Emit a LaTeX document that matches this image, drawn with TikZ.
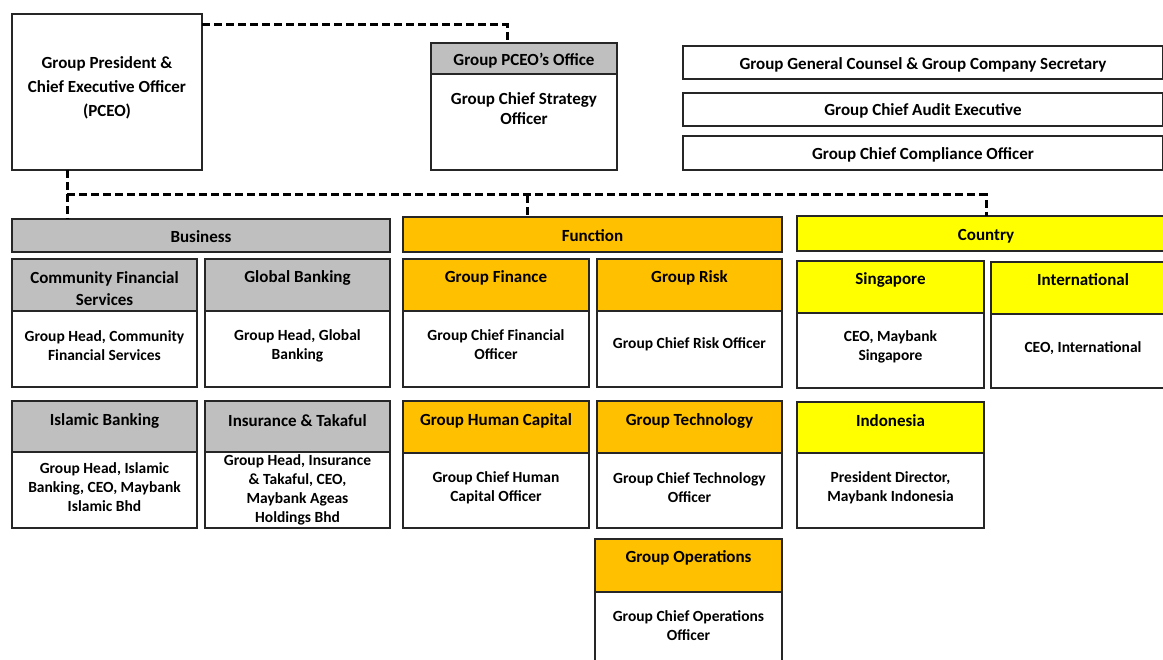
\documentclass[tikz,border=0pt]{standalone}
\usepackage{fontspec}
\setmainfont{Carlito}
\definecolor{hgray}{HTML}{BFBFBF}
\definecolor{horange}{HTML}{FFC000}
\definecolor{hyellow}{HTML}{FFFF00}
\definecolor{edge}{HTML}{262626}
\newcommand\orgunit[7]{%
  \node[hdr,fill=#7,minimum width={(#3-#2)*1pt},minimum height={(#5-#4)*1pt}] (#1h) at ({(#2+#3)/2},{(#4+#5)/2}) {};
  \node[bdy,minimum width={(#3-#2)*1pt},minimum height={(#6-#5)*1pt}] (#1b) at ({(#2+#3)/2},{(#5+#6)/2}) {};
}
\begin{document}
\begin{tikzpicture}[x=1pt,y=-1pt,
  hdr/.style={draw=edge,line width=1.4pt,inner sep=0pt,outer sep=0pt},
  bdy/.style={draw=edge,line width=1.4pt,fill=white,inner sep=0pt,outer sep=0pt},
  txt/.style={align=center,inner sep=0pt,yshift=-1.5pt,font=\fontsize{15.5}{19}\selectfont\bfseries},
  htxt/.style={txt,font=\fontsize{17}{22}\selectfont\bfseries},
  btxt/.style={txt,font=\fontsize{17}{20}\selectfont\bfseries},
  dashline/.style={line width=3pt,dash pattern=on 8pt off 4pt}]
\useasboundingbox (0,0) rectangle (1163,660);

% PCEO
\node[bdy,minimum width=190pt,minimum height=156pt] (pceo) at (107,92) {};
\node[htxt,font=\fontsize{17}{24}\selectfont\bfseries] (pceoT) at (107,86) {Group President \&\\Chief Executive Officer\\(PCEO)};

% PCEO office
\orgunit{off}{431}{617}{43}{74}{170}{hgray}
\node[htxt] (offT) at (524,59) {Group PCEO’s Office};
\node[btxt] (offB) at (524,107) {Group Chief Strategy\\Officer};

% right column
\node[bdy,minimum width=480pt,minimum height=33pt] (gc) at (923,62.5) {};
\node[htxt] (gcT) at (923,63) {Group General Counsel \& Group Company Secretary};
\node[bdy,minimum width=480pt,minimum height=33pt] (au) at (923,109.5) {};
\node[htxt] (auT) at (923,109) {Group Chief Audit Executive};
\node[bdy,minimum width=480pt,minimum height=34pt] (co) at (923,153) {};
\node[htxt] (coT) at (923,153) {Group Chief Compliance Officer};

% category bars
\node[hdr,fill=hgray,minimum width=378pt,minimum height=33pt] (bus) at (201,235.5) {};
\node[htxt] (busT) at (201,235.5) {Business};
\node[hdr,fill=horange,minimum width=379pt,minimum height=35pt] (fun) at (592.5,234.5) {};
\node[htxt] (funT) at (592.5,234.5) {Function};
\node[hdr,fill=hyellow,minimum width=378pt,minimum height=35pt] (cty) at (986,233.5) {};
\node[htxt] (ctyT) at (986,234.5) {Country};

% connectors
\coordinate (busL) at (67,170);
\coordinate (busY) at (0,195);
\coordinate (funD) at (527,195);
\draw[dashline] ([yshift=-11pt]pceo.north east) -| ([xshift=-17pt]offh.north);
\draw[dashline] (busL) -- (busL |- bus.north);
\draw[dashline] (busL |- busY) -| (cty.north);
\draw[dashline] (funD) -- (funD |- fun.north);

% Business
\orgunit{cfs}{12}{197}{259}{311}{387}{hgray}
\node[htxt] (cfsT) at (104.5,287) {Community Financial\\Services};
\node[txt] (cfsB) at (104.5,344) {Group Head, Community\\Financial Services};
\orgunit{gb}{205}{390}{259}{311}{387}{hgray}
\node[htxt] (gbT) at (297.5,276) {Global Banking};
\node[txt] (gbB) at (297.5,344) {Group Head, Global\\Banking};
\orgunit{ib}{12}{197}{401}{452}{528}{hgray}
\node[htxt] (ibT) at (104.5,419) {Islamic Banking};
\node[txt] (ibB) at (104.5,485.5) {Group Head, Islamic\\Banking, CEO, Maybank\\Islamic Bhd};
\orgunit{it}{205}{390}{401}{452}{528}{hgray}
\node[htxt] (itT) at (297.5,419) {Insurance \& Takaful};
\node[txt] (itB) at (297.5,488) {Group Head, Insurance\\\& Takaful, CEO,\\Maybank Ageas\\Holdings Bhd};

% Function
\orgunit{gf}{403}{589}{259}{311}{387}{horange}
\node[htxt] (gfT) at (496,276) {Group Finance};
\node[txt] (gfB) at (496,343.5) {Group Chief Financial\\Officer};
\orgunit{gr}{597}{782}{259}{311}{387}{horange}
\node[htxt] (grT) at (689.5,276) {Group Risk};
\node[txt] (grB) at (689.5,343) {Group Chief Risk Officer};
\orgunit{ghc}{403}{589}{401}{453}{528}{horange}
\node[htxt] (ghcT) at (496,419) {Group Human Capital};
\node[txt] (ghcB) at (496,486) {Group Chief Human\\Capital Officer};
\orgunit{gt}{597}{782}{401}{453}{528}{horange}
\node[htxt] (gtT) at (689.5,419) {Group Technology};
\node[txt] (gtB) at (689.5,486) {Group Chief Technology\\Officer};
\orgunit{go}{595}{782}{539}{592}{700}{horange}
\node[htxt] (goT) at (688.5,556) {Group Operations};
\node[txt] (goB) at (688.5,624) {Group Chief Operations\\Officer};

% Country
\orgunit{sg}{797}{984}{261}{313}{388}{hyellow}
\node[htxt] (sgT) at (890.5,278) {Singapore};
\node[txt] (sgB) at (890.5,345.5) {CEO, Maybank\\Singapore};
\orgunit{intl}{991}{1175}{262}{314}{388}{hyellow}
\node[htxt] (intlT) at (1083,278) {International};
\node[txt] (intlB) at (1083,347) {CEO, International};
\orgunit{idn}{797}{984}{402}{453}{528}{hyellow}
\node[htxt] (idnT) at (890.5,419) {Indonesia};
\node[txt] (idnB) at (890.5,486) {President Director,\\Maybank Indonesia};
\end{tikzpicture}
\end{document}
